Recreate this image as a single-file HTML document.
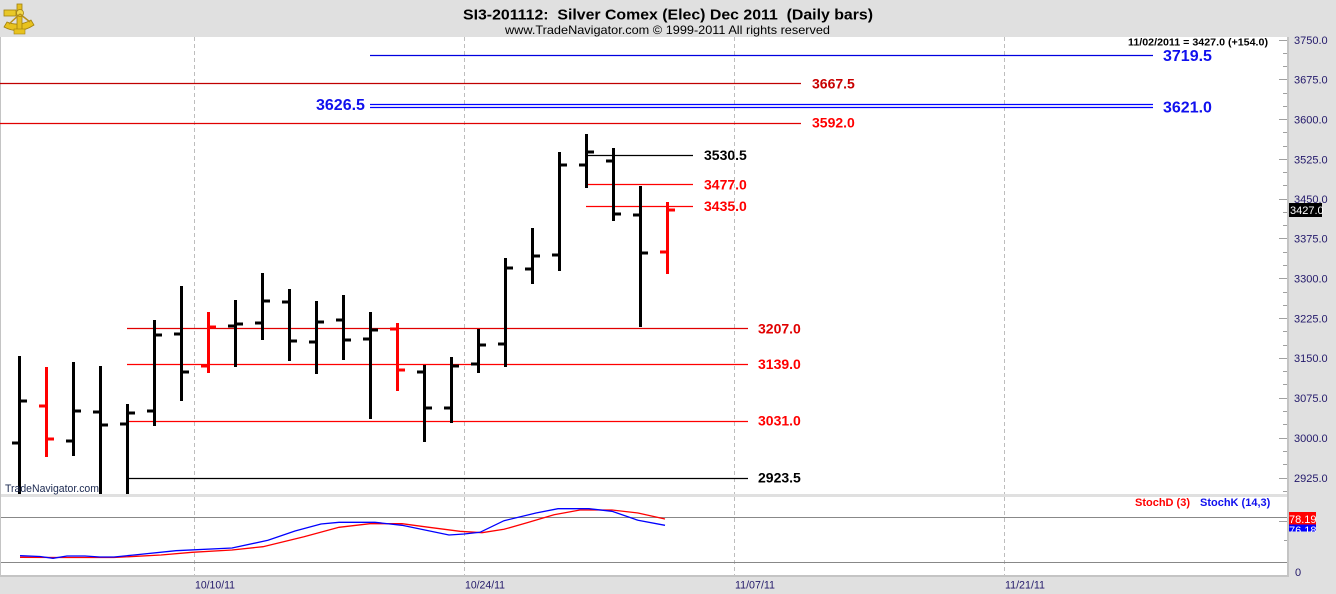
<!DOCTYPE html>
<html><head><meta charset="utf-8"><style>
html,body{margin:0;padding:0;background:#e0e0e0;}
svg{display:block;}
text{font-family:"Liberation Sans",Arial,sans-serif;}
</style></head><body>
<svg width="1336" height="594" viewBox="0 0 1336 594" xmlns="http://www.w3.org/2000/svg">
<rect x="0" y="0" width="1336" height="594" fill="#e0e0e0"/>
<!-- logo -->
<g>
<path d="M4,27 Q19,35 34,25 L31,20 Q19,27 7,22 Z" fill="#e8c21e" stroke="#a08010" stroke-width="0.8"/>
<rect x="17" y="4" width="5" height="28" fill="#e6c020" stroke="#a08010" stroke-width="0.8"/>
<rect x="4" y="10" width="12" height="6" fill="#e8c828" stroke="#a08010" stroke-width="0.8"/>
<circle cx="20" cy="13" r="3.5" fill="#f2d84a" stroke="#a08010" stroke-width="0.8"/>
<path d="M20,14 L9,24 M20,14 L30,22" stroke="#b89018" stroke-width="1.5"/>
<rect x="14" y="29" width="11" height="5" fill="#e8c21e" stroke="#a08010" stroke-width="0.6"/>
</g>
<!-- titles -->
<text x="463" y="19.5" font-size="15" font-weight="bold" fill="#000" style="white-space:pre" textLength="410" lengthAdjust="spacingAndGlyphs">SI3-201112:  Silver Comex (Elec) Dec 2011  (Daily bars)</text>
<text x="505" y="34" font-size="12" fill="#000" textLength="325" lengthAdjust="spacingAndGlyphs">www.TradeNavigator.com © 1999-2011 All rights reserved</text>

<!-- panels -->
<rect x="1" y="37" width="1286" height="457" fill="#fff"/>
<rect x="1" y="497" width="1286" height="78" fill="#fff"/>
<rect x="0" y="37" width="1" height="540" fill="#c4c4c4"/>
<rect x="1287" y="37" width="2" height="540" fill="#c4c4c4"/>
<rect x="0" y="575" width="1289" height="2" fill="#c4c4c4"/>

<!-- grid -->
<g stroke="#bdbdbd" stroke-width="1" stroke-dasharray="4,3">
<line x1="194.5" y1="37" x2="194.5" y2="494"/><line x1="194.5" y1="497" x2="194.5" y2="575"/>
<line x1="464.5" y1="37" x2="464.5" y2="494"/><line x1="464.5" y1="497" x2="464.5" y2="575"/>
<line x1="734.5" y1="37" x2="734.5" y2="494"/><line x1="734.5" y1="497" x2="734.5" y2="575"/>
<line x1="1004.5" y1="37" x2="1004.5" y2="494"/><line x1="1004.5" y1="497" x2="1004.5" y2="575"/>
</g>

<!-- price axis ticks -->
<g stroke="#a0a0a0" stroke-width="1">
<line x1="1279" y1="40.5" x2="1287" y2="40.5"/>
<line x1="1283" y1="53.5" x2="1287" y2="53.5"/>
<line x1="1283" y1="66.5" x2="1287" y2="66.5"/>
<line x1="1279" y1="79.5" x2="1287" y2="79.5"/>
<line x1="1283" y1="93.5" x2="1287" y2="93.5"/>
<line x1="1283" y1="106.5" x2="1287" y2="106.5"/>
<line x1="1279" y1="119.5" x2="1287" y2="119.5"/>
<line x1="1283" y1="132.5" x2="1287" y2="132.5"/>
<line x1="1283" y1="146.5" x2="1287" y2="146.5"/>
<line x1="1279" y1="159.5" x2="1287" y2="159.5"/>
<line x1="1283" y1="172.5" x2="1287" y2="172.5"/>
<line x1="1283" y1="185.5" x2="1287" y2="185.5"/>
<line x1="1279" y1="199.5" x2="1287" y2="199.5"/>
<line x1="1283" y1="212.5" x2="1287" y2="212.5"/>
<line x1="1283" y1="225.5" x2="1287" y2="225.5"/>
<line x1="1279" y1="238.5" x2="1287" y2="238.5"/>
<line x1="1283" y1="252.5" x2="1287" y2="252.5"/>
<line x1="1283" y1="265.5" x2="1287" y2="265.5"/>
<line x1="1279" y1="278.5" x2="1287" y2="278.5"/>
<line x1="1283" y1="292.5" x2="1287" y2="292.5"/>
<line x1="1283" y1="305.5" x2="1287" y2="305.5"/>
<line x1="1279" y1="318.5" x2="1287" y2="318.5"/>
<line x1="1283" y1="331.5" x2="1287" y2="331.5"/>
<line x1="1283" y1="345.5" x2="1287" y2="345.5"/>
<line x1="1279" y1="358.5" x2="1287" y2="358.5"/>
<line x1="1283" y1="371.5" x2="1287" y2="371.5"/>
<line x1="1283" y1="384.5" x2="1287" y2="384.5"/>
<line x1="1279" y1="398.5" x2="1287" y2="398.5"/>
<line x1="1283" y1="411.5" x2="1287" y2="411.5"/>
<line x1="1283" y1="424.5" x2="1287" y2="424.5"/>
<line x1="1279" y1="438.5" x2="1287" y2="438.5"/>
<line x1="1283" y1="451.5" x2="1287" y2="451.5"/>
<line x1="1283" y1="464.5" x2="1287" y2="464.5"/>
<line x1="1279" y1="478.5" x2="1287" y2="478.5"/>
<line x1="1283" y1="491.5" x2="1287" y2="491.5"/>
<line x1="1279" y1="521.5" x2="1287" y2="521.5"/>
<line x1="1284" y1="540.5" x2="1287" y2="540.5"/>
</g>
<g font-size="11" fill="#22186a">
<text x="1294" y="44">3750.0</text>
<text x="1294" y="83.5">3675.0</text>
<text x="1294" y="123.5">3600.0</text>
<text x="1294" y="163.5">3525.0</text>
<text x="1294" y="203">3450.0</text>
<text x="1294" y="242.5">3375.0</text>
<text x="1294" y="282.5">3300.0</text>
<text x="1294" y="322.5">3225.0</text>
<text x="1294" y="362">3150.0</text>
<text x="1294" y="402">3075.0</text>
<text x="1294" y="442">3000.0</text>
<text x="1294" y="482">2925.0</text>
<text x="1295" y="576">0</text>
<text x="195" y="588.5" textLength="40" lengthAdjust="spacingAndGlyphs">10/10/11</text>
<text x="465" y="588.5" textLength="40" lengthAdjust="spacingAndGlyphs">10/24/11</text>
<text x="735" y="588.5" textLength="40" lengthAdjust="spacingAndGlyphs">11/07/11</text>
<text x="1005" y="588.5" textLength="40" lengthAdjust="spacingAndGlyphs">11/21/11</text>
</g>

<!-- header -->
<text x="1128" y="45.5" font-size="10" font-weight="bold" fill="#000" textLength="140" lengthAdjust="spacingAndGlyphs">11/02/2011 = 3427.0 (+154.0)</text>

<!-- horizontal level lines -->
<g stroke-width="1.2">
<line x1="370" y1="55.5" x2="1153" y2="55.5" stroke="#0000e0"/>
<line x1="0" y1="83.5" x2="801" y2="83.5" stroke="#c00000"/>
<line x1="370" y1="104.5" x2="1153" y2="104.5" stroke="#0000ff"/>
<line x1="370" y1="107.5" x2="1153" y2="107.5" stroke="#0000ff"/>
<line x1="0" y1="123.5" x2="801" y2="123.5" stroke="#e00000"/>
<line x1="587" y1="155.5" x2="693" y2="155.5" stroke="#000"/>
<line x1="586" y1="184.5" x2="693" y2="184.5" stroke="#ff0000"/>
<line x1="586" y1="206.5" x2="693" y2="206.5" stroke="#ff0000"/>
<line x1="127" y1="328.5" x2="748" y2="328.5" stroke="#e00000"/>
<line x1="127" y1="364.5" x2="748" y2="364.5" stroke="#ff0000"/>
<line x1="127" y1="421.5" x2="748" y2="421.5" stroke="#ff0000"/>
<line x1="128" y1="478.5" x2="748" y2="478.5" stroke="#000"/>
</g>
<g font-weight="bold">
<text x="1163" y="61" font-size="16" fill="#1010ee">3719.5</text>
<text x="1163" y="112.5" font-size="16" fill="#1010ee">3621.0</text>
<text x="316" y="110" font-size="16" fill="#1010ee">3626.5</text>
<text x="812" y="88.3" font-size="14" fill="#c80000">3667.5</text>
<text x="812" y="127.7" font-size="14" fill="#ff0000">3592.0</text>
<text x="704" y="160" font-size="14" fill="#000">3530.5</text>
<text x="704" y="189.3" font-size="14" fill="#ff0000">3477.0</text>
<text x="704" y="211" font-size="14" fill="#ff0000">3435.0</text>
<text x="758" y="333.3" font-size="14" fill="#e00000">3207.0</text>
<text x="758" y="369" font-size="14" fill="#ff0000">3139.0</text>
<text x="758" y="425.7" font-size="14" fill="#ff0000">3031.0</text>
<text x="758" y="482.7" font-size="14" fill="#000">2923.5</text>
</g>

<!-- bars -->
<clipPath id="pc"><rect x="1" y="37" width="1286" height="457"/></clipPath>
<g clip-path="url(#pc)">
<g fill="#000">
<rect x="18" y="356" width="3" height="140"/><rect x="12" y="441.5" width="6" height="3"/><rect x="21" y="399.5" width="6" height="3"/>
<rect x="72" y="362" width="3" height="94"/><rect x="66" y="439.5" width="6" height="3"/><rect x="75" y="409.5" width="6" height="3"/>
<rect x="99" y="366" width="3" height="130"/><rect x="93" y="410.5" width="6" height="3"/><rect x="102" y="423.5" width="6" height="3"/>
<rect x="126" y="404" width="3" height="92"/><rect x="120" y="422.5" width="6" height="3"/><rect x="129" y="411.5" width="6" height="3"/>
<rect x="153" y="320" width="3" height="106"/><rect x="147" y="409.5" width="6" height="3"/><rect x="156" y="333.5" width="6" height="3"/>
<rect x="180" y="286" width="3" height="115"/><rect x="174" y="332.5" width="6" height="3"/><rect x="183" y="370.5" width="6" height="3"/>
<rect x="234" y="300" width="3" height="67"/><rect x="228" y="324.5" width="6" height="3"/><rect x="237" y="322.5" width="6" height="3"/>
<rect x="261" y="273" width="3" height="67"/><rect x="255" y="321.5" width="6" height="3"/><rect x="264" y="299.5" width="6" height="3"/>
<rect x="288" y="289" width="3" height="72"/><rect x="282" y="300.5" width="6" height="3"/><rect x="291" y="339.5" width="6" height="3"/>
<rect x="315" y="301" width="3" height="73"/><rect x="309" y="340.5" width="6" height="3"/><rect x="318" y="320.5" width="6" height="3"/>
<rect x="342" y="295" width="3" height="65"/><rect x="336" y="318.5" width="6" height="3"/><rect x="345" y="338.5" width="6" height="3"/>
<rect x="369" y="312" width="3" height="107"/><rect x="363" y="337.5" width="6" height="3"/><rect x="372" y="328.5" width="6" height="3"/>
<rect x="423" y="365" width="3" height="77"/><rect x="417" y="370.5" width="6" height="3"/><rect x="426" y="406.5" width="6" height="3"/>
<rect x="450" y="357" width="3" height="66"/><rect x="444" y="406.5" width="6" height="3"/><rect x="453" y="364.5" width="6" height="3"/>
<rect x="477" y="329" width="3" height="44"/><rect x="471" y="362.5" width="6" height="3"/><rect x="480" y="343.5" width="6" height="3"/>
<rect x="504" y="258" width="3" height="109"/><rect x="498" y="342.5" width="6" height="3"/><rect x="507" y="266.5" width="6" height="3"/>
<rect x="531" y="228" width="3" height="56"/><rect x="525" y="267.5" width="6" height="3"/><rect x="534" y="254.5" width="6" height="3"/>
<rect x="558" y="152" width="3" height="119"/><rect x="552" y="253.5" width="6" height="3"/><rect x="561" y="163.5" width="6" height="3"/>
<rect x="585" y="134" width="3" height="54"/><rect x="579" y="163.5" width="6" height="3"/><rect x="588" y="150.5" width="6" height="3"/>
<rect x="612" y="148" width="3" height="73"/><rect x="606" y="159.5" width="6" height="3"/><rect x="615" y="212.5" width="6" height="3"/>
<rect x="639" y="186" width="3" height="141"/><rect x="633" y="213.5" width="6" height="3"/><rect x="642" y="251.5" width="6" height="3"/>
</g>
<g fill="#ff0000">
<rect x="45" y="367" width="3" height="90"/><rect x="39" y="404.5" width="6" height="3"/><rect x="48" y="437.5" width="6" height="3"/>
<rect x="207" y="312" width="3" height="61"/><rect x="201" y="364.5" width="6" height="3"/><rect x="210" y="325.5" width="6" height="3"/>
<rect x="396" y="323" width="3" height="68"/><rect x="390" y="327.5" width="6" height="3"/><rect x="399" y="368.5" width="6" height="3"/>
<rect x="666" y="202" width="3" height="72"/><rect x="660" y="250.5" width="6" height="3"/><rect x="669" y="208.5" width="6" height="3"/>
</g>
</g>

<text x="5" y="492" font-size="11" fill="#1a2850" textLength="94" lengthAdjust="spacingAndGlyphs">TradeNavigator.com</text>

<!-- price tag -->
<rect x="1289" y="203" width="33" height="14" fill="#000"/>
<text x="1290" y="214" font-size="11" fill="#fff">3427.0</text>

<!-- stoch -->
<line x1="1" y1="517.5" x2="1287" y2="517.5" stroke="#888" stroke-width="1"/>
<line x1="1" y1="562.5" x2="1287" y2="562.5" stroke="#888" stroke-width="1"/>
<polyline fill="none" stroke="#ff0000" stroke-width="1.3" points="20,557.3 60,557.5 114,557.5 161,555 192,552.3 232,550 263,546.7 304,536.7 339,527.3 370,523.7 402,523.7 429,527.3 460,531.3 482,532.7 504,529.3 527,522.7 554,514.7 580,510 612,510 638,513 665,519"/>
<polyline fill="none" stroke="#0000ff" stroke-width="1.3" points="20,555.7 40,556.5 53,558.3 67,556 85,556 100,557 114,557 134,555 176,550.7 232,548 268,540.3 295,531 321,524 339,522.3 375,522.3 402,525.3 449,535 464,534 480,532.3 504,520.7 536,513 558,508.7 589,508.7 612,511.3 638,520.3 665,525.3"/>
<g font-size="11" font-weight="bold">
<text x="1135" y="506" fill="#ff0000">StochD (3)</text>
<text x="1200" y="506" fill="#1010ee">StochK (14,3)</text>
</g>
<clipPath id="tc"><rect x="1289" y="512" width="27" height="20"/></clipPath>
<g clip-path="url(#tc)">
<rect x="1289" y="524.5" width="27" height="7" fill="#0000ff"/>
<text x="1289" y="534" font-size="11" fill="#fff">76.18</text>
<rect x="1289" y="512" width="27" height="12.5" fill="#ff0000"/>
<text x="1289" y="523" font-size="11" fill="#fff">78.19</text>
</g>
</svg>
</body></html>
